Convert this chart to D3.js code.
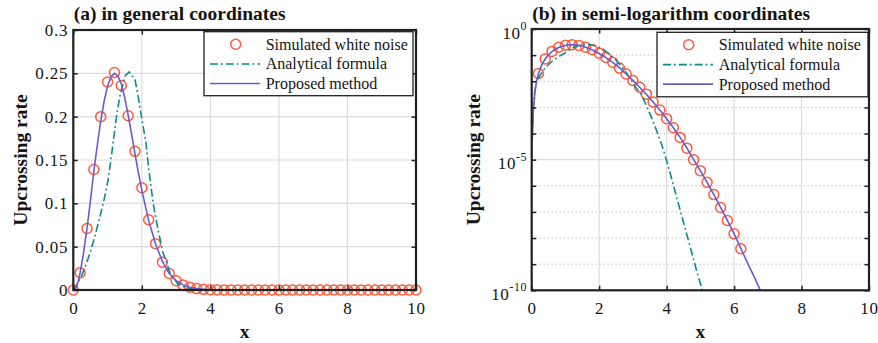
<!DOCTYPE html>
<html><head><meta charset="utf-8">
<script src="https://cdn.jsdelivr.net/npm/d3@7"></script>
<style>
body{margin:0;background:#fff;}
svg{display:block;}
</style></head><body>
<svg id="chart" width="878" height="343"></svg>
<script>
// ---------------- data ----------------
const simX = [0,0.2,0.4,0.6,0.8,1,1.2,1.4,1.6,1.8,2,2.2,2.4,2.6,2.8,3,3.2,3.4,3.6,3.8,4,4.2,4.4,4.6,4.8,5,5.2,5.4,5.6,5.8,6,6.2,6.4,6.6,6.8,7,7.2,7.4,7.6,7.8,8,8.2,8.4,8.6,8.8,9,9.2,9.4,9.6,9.8,10];
const simY = [0,0.020,0.071,0.139,0.200,0.240,0.251,0.236,0.201,0.160,0.118,0.081,0.0535,0.032,0.019,0.0107,0.0059,0.0032,0.0016,7.9e-4,3.7e-4,1.66e-4,7.1e-5,2.75e-5,1.0e-5,3.8e-6,1.35e-6,4.6e-7,1.48e-7,4.7e-8,1.45e-8,3.9e-9,0,0,0,0,0,0,0,0,0,0,0,0,0,0,0,0,0,0,0];

const propX = [0,0.015,0.035,0.055,0.1,0.15,0.2,0.3,0.4,0.5,0.6,0.7,0.8,0.9,1.0,1.1,1.2,1.3,1.4,1.5,1.6,1.7,1.8,1.9,2.0,2.2,2.4,2.6,2.8,3.0,3.2,3.4,3.6,3.8,4.0,4.2,4.4,4.6,4.8,5.0,5.2,5.4,5.6,5.8,6.0,6.2,6.4,6.6,6.8,7.0,8.0,9.0,10.0];
const propY = [0,5e-5,2.5e-4,1e-3,4.5e-3,0.011,0.020,0.043,0.071,0.103,0.137,0.167,0.195,0.218,0.235,0.246,0.250,0.247,0.238,0.222,0.202,0.180,0.157,0.135,0.115,0.080,0.053,0.033,0.019,0.0108,5.9e-3,3.2e-3,1.6e-3,7.9e-4,3.7e-4,1.66e-4,7.1e-5,2.8e-5,1.0e-5,3.8e-6,1.35e-6,4.6e-7,1.5e-7,4.7e-8,1.45e-8,4.0e-9,1.1e-9,3.2e-10,8.7e-11,2.3e-11,1e-14,1e-18,1e-23];

const anaX = [0,0.015,0.035,0.07,0.14,0.24,0.34,0.49,0.63,0.78,0.92,1.02,1.12,1.26,1.36,1.51,1.63,1.80,1.89,1.99,2.12,2.2,2.33,2.48,2.62,2.82,3.06,3.26,3.56,3.75,3.9,4.1,4.3,4.5,4.7,4.9,5.06,5.2,6,8,10];
const anaY = [1.2e-5,8e-5,4.5e-4,2.7e-3,0.009,0.016,0.026,0.043,0.062,0.085,0.108,0.128,0.157,0.200,0.224,0.247,0.2515,0.243,0.224,0.200,0.170,0.140,0.100,0.068,0.043,0.020,0.0065,3.0e-3,3.9e-4,8.9e-5,2.5e-5,3.2e-6,3.5e-7,4e-8,4.5e-9,5e-10,1e-10,2.5e-11,1e-15,1e-25,1e-36];

const xTicks = [0,2,4,6,8,10];
const yTicksLin = [0,0.05,0.1,0.15,0.2,0.25,0.3];
const yTickLabelsLin = ["0","0.05","0.1","0.15","0.2","0.25","0.3"];
const logDecades = [0,-1,-2,-3,-4,-5,-6,-7,-8,-9,-10];
const logLabelExps = [0,-5,-10];
const legendLabels = ["Simulated white noise","Analytical formula","Proposed method"];
const titles = ["(a) in general coordinates","(b) in semi-logarithm coordinates"];
const yLabel = "Upcrossing rate";
const xLabel = "x";

// ---------------- styles ----------------
const FONT = '"Liberation Serif", Tinos, "Times New Roman", serif';
const C_SIM = "#ff5a3c", C_ANA = "#0d8b8b", C_PROP = "#6a5acd";
const FRAME = "#202020", GRID = "#dcdcdc", MINOR = "#bababa", TXT = "#141414";
const TICK = 4.5;
const R = 5;

const svg = d3.select("#chart");

function makePoints(xs, ys){ return xs.map((x,i)=>({x, y: ys[i]})); }
const simPts = makePoints(simX, simY);
const propPts = makePoints(propX, propY);
const anaPts = makePoints(anaX, anaY);

function txt(sel){ return sel.attr("font-family",FONT).attr("fill",TXT); }

function drawPanel(opt){
  const {id, x, y, isLog, left, right, top, bottom, title, legend, ylabX} = opt;
  const g = svg.append("g");
  svg.append("clipPath").attr("id","clip"+id).append("rect")
    .attr("x",left).attr("y",top).attr("width",right-left).attr("height",bottom-top);

  // grid
  const grid = g.append("g");
  xTicks.filter(t=>t>0&&t<10).forEach(t=>{
    grid.append("line").attr("x1",x(t)).attr("x2",x(t)).attr("y1",top).attr("y2",bottom)
      .attr("stroke",GRID).attr("stroke-width",1.2);
  });
  if(!isLog){
    yTicksLin.filter(t=>t>0&&t<0.3).forEach(t=>{
      grid.append("line").attr("x1",left).attr("x2",right).attr("y1",y(t)).attr("y2",y(t))
        .attr("stroke",GRID).attr("stroke-width",1.2);
    });
  } else {
    logDecades.filter(d=>d<0&&d>-10).forEach(d=>{
      const major = logLabelExps.includes(d);
      grid.append("line").attr("x1",left).attr("x2",right).attr("y1",y(Math.pow(10,d))).attr("y2",y(Math.pow(10,d)))
        .attr("stroke",major?GRID:MINOR).attr("stroke-width",major?1.2:1)
        .attr("stroke-dasharray",major?null:"1.2,2.8");
    });
  }

  // data
  const ok = p => isLog ? p.y>0 : true;
  const line = d3.line().x(p=>x(p.x)).y(p=>y(p.y));
  const plot = g.append("g");
  plot.selectAll("circle.sim").data(simPts.filter(p=>isLog ? p.y>=1e-10 : true))
    .join("circle").attr("class","sim")
    .attr("cx",p=>x(p.x)).attr("cy",p=>y(p.y)).attr("r",R)
    .attr("fill","none").attr("stroke",C_SIM).attr("stroke-width",1.5);
  plot.append("path").datum(anaPts.filter(ok)).attr("d",line)
    .attr("clip-path","url(#clip"+id+")")
    .attr("fill","none").attr("stroke",C_ANA).attr("stroke-width",1.6)
    .attr("stroke-dasharray","8,3,1.8,3");
  plot.append("path").datum(propPts.filter(ok)).attr("d",line)
    .attr("clip-path","url(#clip"+id+")")
    .attr("fill","none").attr("stroke",C_PROP).attr("stroke-width",1.6);

  // axes
  const fontTick = 17;
  const ax = g.append("g");
  ax.append("g").attr("transform",`translate(0,${bottom})`)
    .call(d3.axisBottom(x).tickValues(xTicks).tickSize(-TICK).tickPadding(11.5).tickFormat(d3.format("d")));
  ax.append("g").attr("transform",`translate(0,${top})`)
    .call(d3.axisTop(x).tickValues(xTicks).tickSize(-TICK).tickFormat(""));
  if(!isLog){
    ax.append("g").attr("transform",`translate(${left},0)`)
      .call(d3.axisLeft(y).tickValues(yTicksLin).tickSize(-TICK).tickPadding(5)
        .tickFormat((d,i)=>yTickLabelsLin[i]));
    ax.append("g").attr("transform",`translate(${right},0)`)
      .call(d3.axisRight(y).tickValues(yTicksLin).tickSize(-TICK).tickFormat(""));
  } else {
    const tv = logDecades.map(d=>Math.pow(10,d));
    ax.append("g").attr("transform",`translate(${left},0)`)
      .call(d3.axisLeft(y).tickValues(tv).tickSize(-TICK).tickFormat(""));
    ax.append("g").attr("transform",`translate(${right},0)`)
      .call(d3.axisRight(y).tickValues(tv).tickSize(-TICK).tickFormat(""));
    logLabelExps.forEach(e=>{
      const t = txt(g.append("text")).attr("x",left-4.5).attr("y",y(Math.pow(10,e))+9.5)
        .attr("text-anchor","end").attr("font-size",fontTick).style("letter-spacing","0.6px");
      t.append("tspan").text("10");
      t.append("tspan").attr("dy",-8.5).attr("font-size",12).text(String(e));
    });
  }
  ax.attr("font-family",FONT).attr("font-size",fontTick);
  ax.selectAll("g").attr("font-family",FONT).attr("font-size",fontTick);
  ax.selectAll(".domain").remove();
  ax.selectAll(".tick line").attr("stroke",FRAME).attr("stroke-width",1.5);
  ax.selectAll(".tick text").attr("fill",TXT).style("letter-spacing","0.8px");

  // frame
  g.append("rect").attr("x",left).attr("y",top).attr("width",right-left).attr("height",bottom-top)
    .attr("fill","none").attr("stroke",FRAME).attr("stroke-width",2.2);

  // legend
  const lg = g.append("g").attr("transform",`translate(${legend.x},${legend.y})`);
  lg.append("rect").attr("width",legend.w).attr("height",legend.h)
    .attr("fill","#fff").attr("stroke",FRAME).attr("stroke-width",1.3);
  const rows = [12.5, 32.3, 51.8];
  lg.append("circle").attr("cx",31.7).attr("cy",rows[0]).attr("r",R)
    .attr("fill","none").attr("stroke",C_SIM).attr("stroke-width",1.5);
  lg.append("line").attr("x1",6).attr("x2",56).attr("y1",rows[1]).attr("y2",rows[1])
    .attr("stroke",C_ANA).attr("stroke-width",1.6).attr("stroke-dasharray","8,3,1.8,3");
  lg.append("line").attr("x1",6).attr("x2",56).attr("y1",rows[2]).attr("y2",rows[2])
    .attr("stroke",C_PROP).attr("stroke-width",1.6);
  legendLabels.forEach((s,i)=>{
    txt(lg.append("text")).attr("x",61.7).attr("y",rows[i]+5.5).attr("font-size",16).text(s);
  });

  // titles and labels
  txt(g.append("text")).attr("x",left+0.5).attr("y",19.5).attr("font-size",19.5)
    .attr("font-weight","bold").text(title);
  txt(g.append("text")).attr("x",(left+right)/2).attr("y",338).attr("text-anchor","middle")
    .attr("font-size",19.5).attr("font-weight","bold").text(xLabel);
  txt(g.append("text")).attr("transform",`translate(${ylabX},${(top+bottom)/2}) rotate(-90)`)
    .attr("text-anchor","middle").attr("font-size",19.5).attr("font-weight","bold").text(yLabel);
}

const xL = d3.scaleLinear().domain([0,10]).range([73.3,416]);
const yL = d3.scaleLinear().domain([0,0.3]).range([290,30]);
drawPanel({id:"L", x:xL, y:yL, isLog:false, left:73.3, right:416, top:30, bottom:290,
  title:titles[0], legend:{x:204,y:31.7,w:209,h:64}, ylabX:26.5});

const xR = d3.scaleLinear().domain([0,10]).range([531.7,869]);
const yR = d3.scaleLog().domain([1e-10,1]).range([290.3,29]);
drawPanel({id:"R", x:xR, y:yR, isLog:true, left:531.7, right:869, top:29, bottom:290.3,
  title:titles[1], legend:{x:657,y:32.3,w:211,h:64.5}, ylabX:480});
</script>
</body></html>
